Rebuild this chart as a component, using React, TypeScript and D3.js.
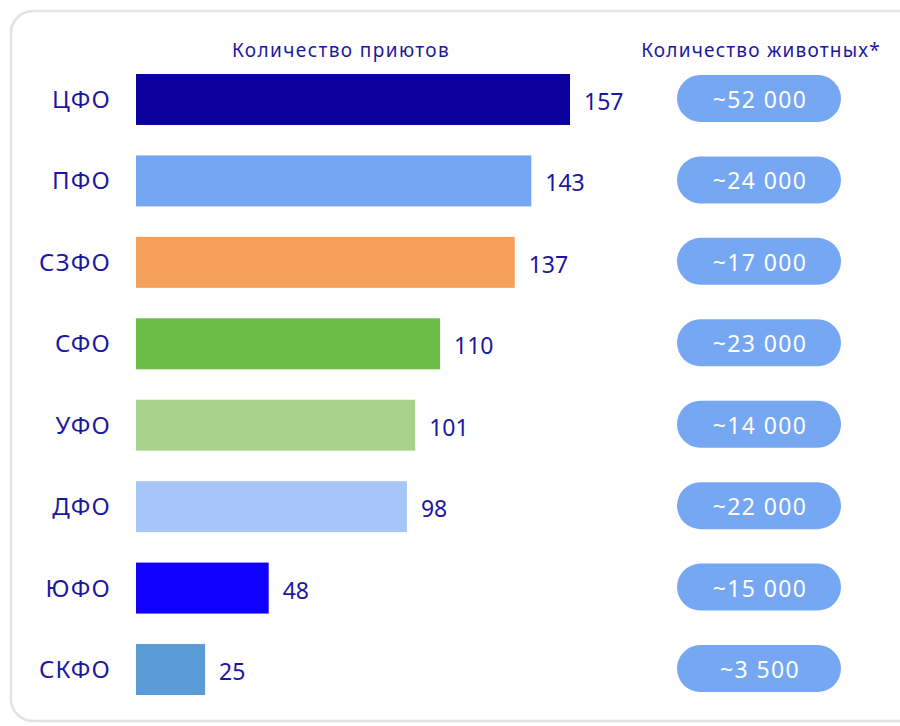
import React from "react";
import * as d3 from "d3";

const regions = ["ЦФО", "ПФО", "СЗФО", "СФО", "УФО", "ДФО", "ЮФО", "СКФО"];
const shelters = [157, 143, 137, 110, 101, 98, 48, 25];
const animals = [52000, 24000, 17000, 23000, 14000, 22000, 15000, 3500];
const colors = ["#0c009e", "#75a6f3", "#f5a05a", "#6abd45", "#a8d28c", "#a6c5f8", "#1000ff", "#5b9bd6"];
const headerLeft = "Количество приютов";
const headerRight = "Количество животных*";

const W = 900;
const H = 726;
const FONT = "'Noto Sans', sans-serif";
const TEXT = "#1d17a0";

const fmt = (v: number) => "~" + d3.format(",")(v).replace(/,/g, " ");

export default function App() {
  const x = d3.scaleLinear().domain([0, 157]).range([136, 570]);
  const y = d3.scaleBand<string>().domain(regions).range([74, 695]).paddingInner(0.374).paddingOuter(0);
  const bw = y.bandwidth();
  const pillX = 677;
  const pillW = 164;
  return (
    <svg width={W} height={H} style={{ position: "absolute", left: 0, top: 0 }} fontFamily={FONT}>
      <rect x={0} y={0} width={W} height={H} fill="#ffffff" />
      <rect x={11} y={11} width={W + 40} height={710} rx={22} ry={22} fill="#ffffff" stroke="#e2e2e2" strokeWidth={2.5} />
      <text x={341} y={57} textAnchor="middle" fontSize={19} letterSpacing={1.4} fill={TEXT}>{headerLeft}</text>
      <text x={761} y={57} textAnchor="middle" fontSize={19} letterSpacing={1.2} fill={TEXT}>{headerRight}</text>
      {regions.map((r, i) => {
        const yy = y(r) as number;
        const cy = yy + bw / 2;
        return (
          <g key={r}>
            <text x={111} y={cy + 8.5} textAnchor="end" fontSize={24} letterSpacing={1.2} fill={TEXT}>{r}</text>
            <rect x={x(0)} y={yy} width={x(shelters[i]) - x(0)} height={bw} fill={colors[i]} />
            <text x={x(shelters[i]) + 14} y={cy + 10.5} fontSize={23} fill={TEXT}>{shelters[i]}</text>
            <rect x={pillX} y={yy + 1} width={pillW} height={47} rx={23.5} ry={23.5} fill="#76a7f3" />
            <text x={pillX + pillW / 2 + 1} y={cy + 8.5} textAnchor="middle" fontSize={23} letterSpacing={1.4} fill="#ffffff">{fmt(animals[i])}</text>
          </g>
        );
      })}
    </svg>
  );
}
